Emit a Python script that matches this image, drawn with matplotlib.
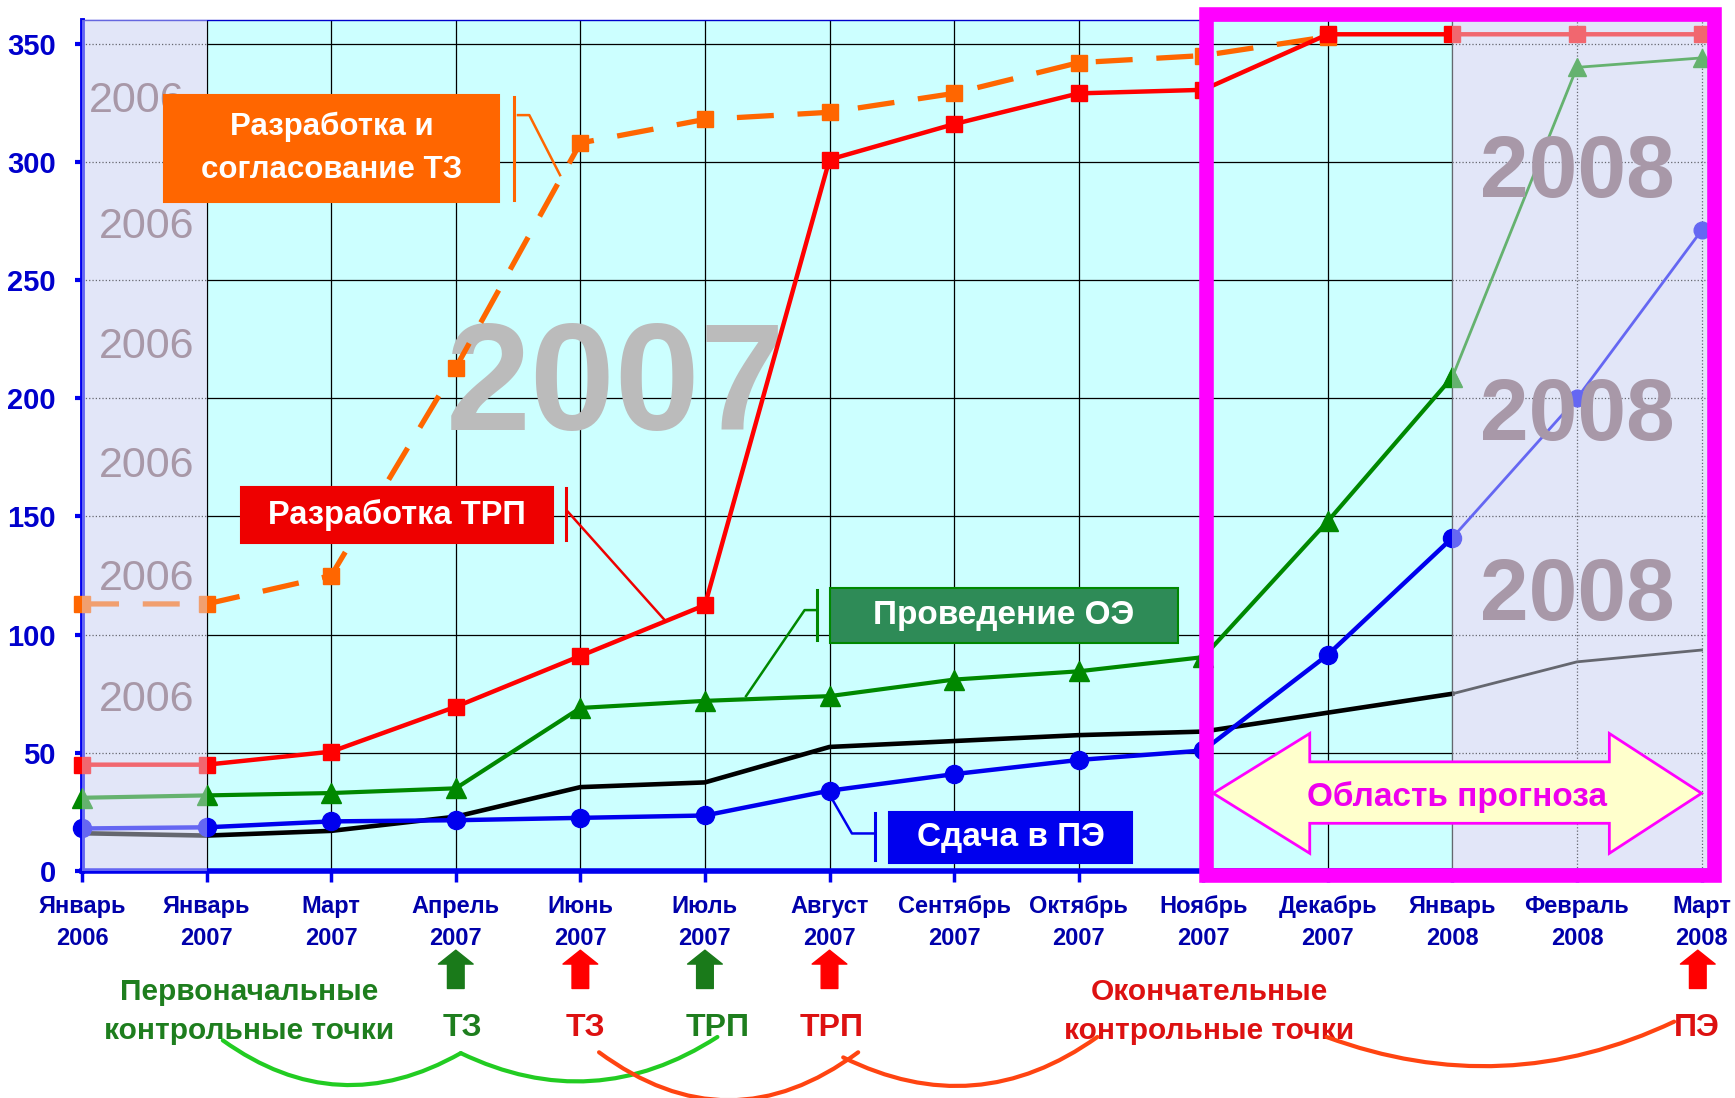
import matplotlib.pyplot as plt
from matplotlib.patches import Rectangle, Polygon
import numpy as np

plt.rcParams['font.family'] = ['Liberation Sans', 'DejaVu Sans']

months = ['Январь\n2006', 'Январь\n2007', 'Март\n2007', 'Апрель\n2007', 'Июнь\n2007',
          'Июль\n2007', 'Август\n2007', 'Сентябрь\n2007', 'Октябрь\n2007', 'Ноябрь\n2007',
          'Декабрь\n2007', 'Январь\n2008', 'Февраль\n2008', 'Март\n2008']
y_ticks = [0, 50, 100, 150, 200, 250, 300, 350]

# series
tz_plan = [113, 113, 125, 213, 308, 318, 321, 329, 342, 345, 353]
trp = [45, 45, 50.5, 69.5, 91, 112.5, 301, 316, 329, 330.5, 354, 354, 354, 354]
oe = [31, 32, 33, 35, 69, 72, 74, 81, 84.5, 90.5, 148, 209, 340, 344]
pe = [18, 18.5, 21, 21.5, 22.5, 23.5, 34, 41, 47, 51, 91.5, 141, 200, 271]
total = [16, 15, 17, 23, 35.5, 37.5, 52.5, 55, 57.5, 59, 67, 75, 88.5, 93.5]

x = np.arange(len(months))
XMAX = 13.05
FC = 11  # first forecast month (Январь 2008)

fig = plt.figure(figsize=(17.35, 10.98), dpi=100)
ax = fig.add_axes([0.0473, 0.2067, 0.937, 0.775])
ax.set_xlim(0, XMAX)
ax.set_ylim(0, 360)
ax.set_facecolor('#CCFFFF')

lav = '#E2E6F8'
zones = [(0, 1), (FC, XMAX)]
for a, b in zones:
    ax.axvspan(a, b, color=lav, zorder=0.3, lw=0)
    ax.axvspan(a, b, color=lav, alpha=0.45, zorder=5, lw=0)

# grid: solid in 2007, dotted in the other years
for yv in y_ticks[1:]:
    ax.hlines(yv, 1, FC, color='black', lw=0.9, zorder=1)
    ax.hlines(yv, 0, 1, color='black', lw=0.9, ls=':', zorder=1)
    ax.hlines(yv, FC, XMAX, color='black', lw=0.9, ls=':', zorder=1)
for xi in x[1:]:
    ax.axvline(xi, color='black', lw=0.9, ls='-' if xi <= FC else ':', zorder=1)

# watermarks
wm = '#A898A8'
for i, yc in enumerate([327.5, 274.3, 223.4, 173, 125.6, 74]):
    ax.text(0.44 if i == 0 else 0.52, yc - 6.5, '2006', fontsize=31, color=wm,
            ha='center', va='baseline', zorder=5.5)
for yc in [299, 196, 120]:
    ax.text(12.0, yc - 13.7, '2008', fontsize=63, fontweight='bold', color=wm,
            ha='center', va='baseline', zorder=5.5)
ax.text(4.28, 186.5, '2007', fontsize=110, fontweight='bold', color='#BBBBBB',
        ha='center', va='baseline', zorder=2)

# series (forecast part of black, blue, green drawn thinner)
ax.plot(x[:FC + 1], total[:FC + 1], color='black', lw=3.3, zorder=3, clip_on=False)
ax.plot(x[FC:], total[FC:], color='black', lw=2, zorder=3, clip_on=False)
ax.plot(x[:FC + 1], pe[:FC + 1], color='#0000EE', lw=3.2, marker='o', ms=13,
        zorder=3.2, clip_on=False)
ax.plot(x[FC:], pe[FC:], color='#0000EE', lw=2, marker='o', ms=12, zorder=3.2, clip_on=False)
ax.plot(x[:FC + 1], oe[:FC + 1], color='#008800', lw=3, marker='^', ms=14,
        zorder=3.3, clip_on=False)
ax.plot(x[FC:], oe[FC:], color='#008800', lw=2, marker='^', ms=13, zorder=3.3, clip_on=False)
ax.plot(x[:len(tz_plan)], tz_plan, color='#FF6600', lw=3.8, ls=(0, (7, 4.5)),
        marker='s', ms=12, zorder=3.4, clip_on=False)
ax.plot(x, trp, color='#FF0000', lw=3.2, marker='s', ms=12, zorder=3.5, clip_on=False)

# callouts
callouts = [
    ('Разработка и\nсогласование ТЗ', '#FF6600', '#FF6600', (0.66, 283.1, 3.35, 328.5),
     (3.467, 283.8, 327.6), [3.499, 3.59, 3.837], [319.8, 319.8, 294.4], 22.5),
    ('Разработка ТРП', '#EE0000', '#EE0000', (1.277, 138.6, 3.78, 162.3),
     (3.888, 140, 162), [3.90, 4.68], [152, 106], 23.5),
    ('Проведение ОЭ', '#2E8B57', '#008800', (6.0, 96.3, 8.8, 119.6),
     (5.90, 97.7, 118.9), [5.90, 5.80, 5.33], [110.4, 110.4, 74], 24),
    ('Сдача в ПЭ', '#0000EE', '#0000EE', (6.48, 3.3, 8.43, 25.1),
     (6.365, 4.7, 24.4), [6.365, 6.18, 6.015], [15.9, 15.9, 31], 24),
]
for text, fc, lc, (x0, y0, x1, y1), (bx, by0, by1), lx, ly, fs in callouts:
    ax.add_patch(Rectangle((x0, y0), x1 - x0, y1 - y0, fc=fc, ec=lc, lw=1.5, zorder=7))
    ax.text((x0 + x1) / 2, (y0 + y1) / 2, text, color='white', fontsize=fs,
            fontweight='bold', ha='center', va='center', linespacing=1.55, zorder=7.5)
    ax.plot([bx, bx], [by0, by1], color=lc, lw=2.2, zorder=7)
    ax.plot(lx, ly, color=lc, lw=1.8, zorder=7)

# forecast zone
ax.add_patch(Rectangle((9.02, -1.7), 13.1 - 9.02, 362.5 + 1.7, fill=False,
                       ec='#FF00FF', lw=10.5, zorder=8, clip_on=False))
arrow_pts = [(9.08, 32.9), (9.855, 58.2), (9.855, 46.2), (12.26, 46.2), (12.26, 58.2),
             (13.0, 32.9), (12.26, 7.5), (12.26, 20.2), (9.855, 20.2), (9.855, 7.5)]
ax.add_patch(Polygon(arrow_pts, closed=True, fc='#FFFFCC', ec='#FF00FF', lw=2, zorder=9))
ax.text(11.04, 31.5, 'Область прогноза', color='#EE00EE', fontsize=24,
        fontweight='bold', ha='center', va='center', zorder=10)

# axes styling
ax.set_xticks(x)
ax.set_xticklabels(months)
ax.set_yticks(y_ticks)
ax.tick_params(axis='y', colors='#0000EE', length=5, width=3, pad=14,
               labelsize=21, labelcolor='#0000CC')
ax.tick_params(axis='x', color='#0000EE', length=8, width=2.5, pad=9,
               labelsize=17, labelcolor='#0000AA')
for t in ax.get_yticklabels():
    t.set_fontweight('bold')
for t in ax.get_xticklabels():
    t.set_fontweight('bold')
    t.set_linespacing(1.5)
ax.spines['left'].set_color('#0000EE')
ax.spines['left'].set_linewidth(3.5)
ax.spines['bottom'].set_color('#0000EE')
ax.spines['bottom'].set_linewidth(4)
ax.spines['top'].set_color('#0000CC')
ax.spines['top'].set_linewidth(1)
ax.spines['right'].set_visible(False)

# control points below the axis
tr = ax.get_xaxis_transform()
green, red = '#1E7E1E', '#DD1111'
for xi, col in [(3, '#1A7A1A'), (4, '#FF0000'), (5, '#1A7A1A'), (6, '#FF0000'), (12.97, '#FF0000')]:
    ax.annotate('', xy=(xi, -0.093), xytext=(xi, -0.138), xycoords=tr, textcoords=tr,
                arrowprops=dict(facecolor=col, edgecolor=col, width=12, headwidth=25,
                                headlength=10, shrink=0), annotation_clip=False)

ax.text(1.34, -0.1645, 'Первоначальные\nконтрольные точки', transform=tr, color=green,
        fontsize=21.5, fontweight='bold', ha='center', va='center', linespacing=1.5)
ax.text(9.05, -0.1645, 'Окончательные\nконтрольные точки', transform=tr, color=red,
        fontsize=21.5, fontweight='bold', ha='center', va='center', linespacing=1.5)
for xt, txt, col in [(3.05, 'ТЗ', green), (4.04, 'ТЗ', red), (5.10, 'ТРП', green),
                     (6.02, 'ТРП', red), (12.96, 'ПЭ', red)]:
    ax.text(xt, -0.184, txt, transform=tr, color=col, fontsize=23, fontweight='bold',
            ha='center', va='center')

curves = [
    ((1.13, -0.199), (3.04, -0.214), 0.32, '#22CC22'),
    ((3.04, -0.214), (5.10, -0.195), 0.28, '#22CC22'),
    ((4.15, -0.213), (6.23, -0.213), 0.37, '#FF4411'),
    ((6.11, -0.219), (8.15, -0.195), 0.30, '#FF4411'),
    ((9.99, -0.195), (12.78, -0.177), 0.21, '#FF4411'),
]
for start, end, rad, col in curves:
    ax.annotate('', xy=end, xytext=start, xycoords=tr, textcoords=tr,
                arrowprops=dict(arrowstyle='-', color=col, lw=3,
                                connectionstyle='arc3,rad=%s' % rad, shrinkA=0, shrinkB=0),
                annotation_clip=False)

fig.savefig('out.png', dpi=100)
